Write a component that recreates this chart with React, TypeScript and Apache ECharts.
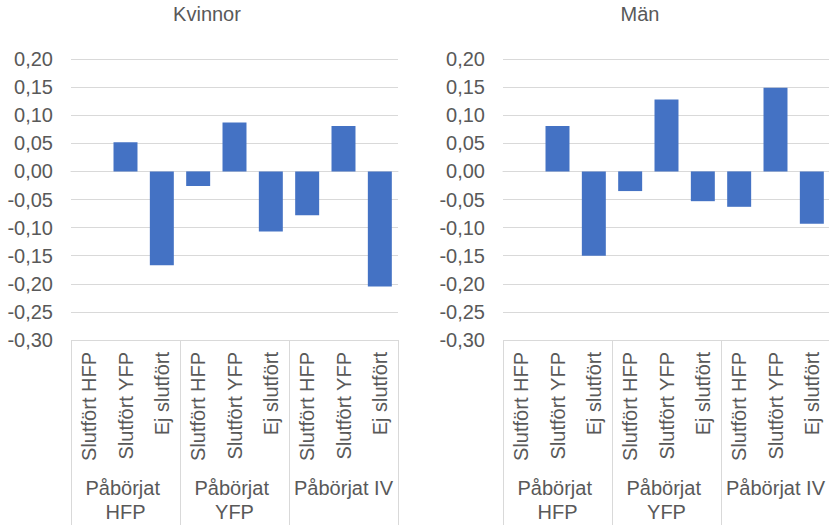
import React, { useEffect, useRef } from "react";
import * as echarts from "echarts";

const categories = [
  "Slutfört HFP", "Slutfört YFP", "Ej slutfört",
  "Slutfört HFP", "Slutfört YFP", "Ej slutfört",
  "Slutfört HFP", "Slutfört YFP", "Ej slutfört",
];
const groups = ["Påbörjat HFP", "Påbörjat YFP", "Påbörjat IV"];
const kvinnor: (number | null)[] = [null, 0.052, -0.167, -0.026, 0.087, -0.107, -0.078, 0.081, -0.205];
const man: (number | null)[] = [null, 0.081, -0.150, -0.035, 0.128, -0.053, -0.063, 0.149, -0.093];
const panelTitles = ["Kvinnor", "Män"];
const yMin = -0.3;
const yMax = 0.2;
const yStep = 0.05;

const FONT = "Liberation Sans, Arial, sans-serif";
const TXT = "#595959";
const LINE = "#d9d9d9";
const BAR = "#4472C4";
const FS = 20;

export default function App() {
  const ref = useRef<HTMLDivElement>(null);
  useEffect(() => {
    if (!ref.current) return;
    const chart = echarts.init(ref.current, undefined, { renderer: "svg" });
    const grids = [
      { left: 71, top: 59, width: 327, height: 281, outerBoundsMode: "none", containLabel: false },
      { left: 503, top: 59, width: 327, height: 281, outerBoundsMode: "none", containLabel: false },
    ];
    const xAxis: any[] = [];
    const yAxis: any[] = [];
    const series: any[] = [];
    [kvinnor, man].forEach((vals, i) => {
      xAxis.push({
        type: "category",
        gridIndex: i,
        position: "bottom",
        offset: 0,
        data: categories,
        axisLine: { show: true, lineStyle: { color: LINE, width: 1 } },
        axisTick: { show: false },
        axisLabel: {
          rotate: 90,
          interval: 0,
          margin: 12,
          fontSize: FS,
          fontFamily: FONT,
          color: TXT,
        },
      });
      xAxis.push({
        type: "category",
        gridIndex: i,
        position: "bottom",
        offset: 0,
        data: groups,
        axisLine: { show: false },
        axisTick: { show: true, length: 190, lineStyle: { color: LINE, width: 1 } },
        axisLabel: {
          interval: 0,
          margin: 136,
          fontSize: FS,
          lineHeight: 24,
          width: 120,
          overflow: "break",
          fontFamily: FONT,
          color: TXT,
        },
      });
      yAxis.push({
        type: "value",
        gridIndex: i,
        min: yMin,
        max: yMax,
        interval: yStep,
        axisLine: { show: false },
        axisTick: { show: false },
        splitLine: { lineStyle: { color: LINE, width: 1 } },
        axisLabel: {
          margin: 18,
          fontSize: FS,
          fontFamily: FONT,
          color: TXT,
          formatter: (v: number) => v.toFixed(2).replace(".", ","),
        },
      });
      series.push({
        type: "bar",
        xAxisIndex: i * 2,
        yAxisIndex: i,
        data: vals,
        barCategoryGap: "34%",
        itemStyle: { color: BAR },
      });
    });
    chart.setOption({
      animation: false,
      backgroundColor: "#ffffff",
      title: [
        {
          text: panelTitles[0], left: 207, top: 4, padding: 0, textAlign: "center",
          textStyle: { fontSize: FS, fontWeight: "normal", fontFamily: FONT, color: TXT },
        },
        {
          text: panelTitles[1], left: 640, top: 4, padding: 0, textAlign: "center",
          textStyle: { fontSize: FS, fontWeight: "normal", fontFamily: FONT, color: TXT },
        },
      ],
      grid: grids,
      xAxis,
      yAxis,
      series,
    });
    return () => chart.dispose();
  }, []);
  return (
    <div
      ref={ref}
      style={{ position: "absolute", left: 0, top: 0, width: 829, height: 525 }}
    />
  );
}
